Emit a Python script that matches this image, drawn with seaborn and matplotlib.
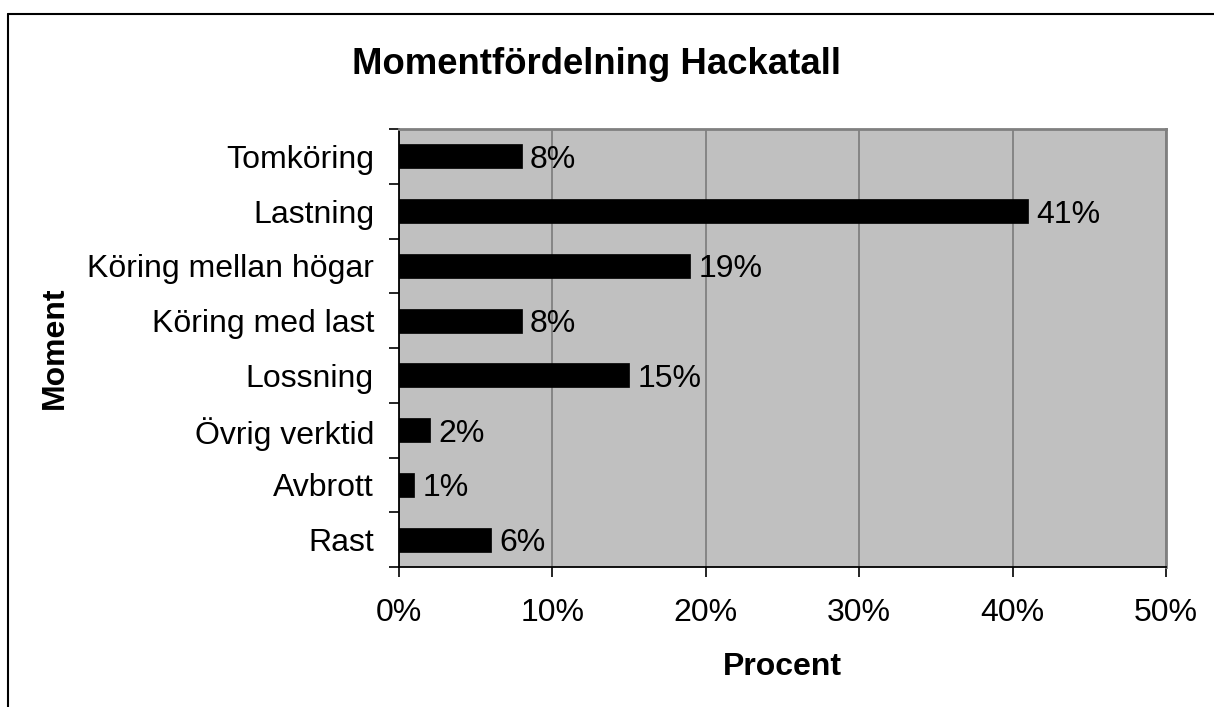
import matplotlib
matplotlib.use("Agg")
import matplotlib.pyplot as plt
import seaborn as sns
import pandas as pd
import numpy as np
from matplotlib.lines import Line2D
from matplotlib.ticker import FuncFormatter, FixedLocator

categories = ["Tomköring", "Lastning", "Köring mellan högar", "Köring med last",
              "Lossning", "Övrig verktid", "Avbrott", "Rast"]
values = [8, 41, 19, 8, 15, 2, 1, 6]
x_ticks = [0, 10, 20, 30, 40, 50]

sns.set_style("white")
plt.rcParams["font.family"] = ["Liberation Sans", "DejaVu Sans"]
plt.rcParams["text.color"] = "black"
plt.rcParams["xtick.color"] = "black"
plt.rcParams["ytick.color"] = "black"
plt.rcParams["axes.labelcolor"] = "black"

FS = 23

df = pd.DataFrame({"Moment": categories, "Procent": values})

fig = plt.figure(figsize=(12.14, 7.07), dpi=100)
ax = fig.add_axes([399/1214, 1-567/707, (1166-399)/1214, (567-129)/707])
ax.set_facecolor("#C0C0C0")

sns.barplot(data=df, y="Moment", x="Procent", orient="h", color="black",
            width=0.44, ax=ax, saturation=1, zorder=3, edgecolor="black", linewidth=0.5)

ax.set_xlim(0, 50)
ax.set_ylim(7.5, -0.5)
ax.xaxis.set_major_locator(FixedLocator(x_ticks))
ax.xaxis.set_major_formatter(FuncFormatter(lambda v, p: f"{int(v)}%"))
ax.grid(axis="x", color="#808080", linewidth=1.3, zorder=1)
ax.grid(axis="y", visible=False)
ax.set_axisbelow(True)

for s in ["top", "right"]:
    ax.spines[s].set_color("#808080")
    ax.spines[s].set_linewidth(2)
for s in ["left", "bottom"]:
    ax.spines[s].set_color("black")
    ax.spines[s].set_linewidth(1.3)

ax.tick_params(axis="x", direction="out", length=7.5, width=1.2, color="black",
               labelsize=FS, pad=15, bottom=True, labelcolor="black")
ax.tick_params(axis="y", which="major", length=0, labelsize=FS, pad=18, labelcolor="black")
ax.yaxis.set_minor_locator(FixedLocator(np.arange(-0.5, 8, 1)))
ax.tick_params(axis="y", which="minor", direction="out", length=7.5, width=1.2,
               color="black", left=True)

for i, v in enumerate(values):
    ax.annotate(f"{v}%", xy=(v, i), xytext=(6, 0), textcoords="offset points",
                va="center_baseline", ha="left", fontsize=FS, color="black", zorder=4)

ax.set_xlabel("Procent", fontsize=FS, fontweight="bold", labelpad=17, color="black")
ax.set_ylabel("")
fig.text(55/1214, 1-348/707, "Moment", rotation=90, ha="center", va="center",
         fontsize=FS, fontweight="bold", color="black")

fig.text(597/1214, 1-64/707, "Momentfördelning Hackatall", ha="center", va="center",
         fontsize=26.3, fontweight="bold", color="black")

fig.add_artist(Line2D([8/1214, 8/1214], [0, 1-14/707], color="black", linewidth=1.5,
                      transform=fig.transFigure))
fig.add_artist(Line2D([8/1214, 1], [1-14/707, 1-14/707], color="black", linewidth=1.5,
                      transform=fig.transFigure))

fig.savefig("out.png", dpi=100)
